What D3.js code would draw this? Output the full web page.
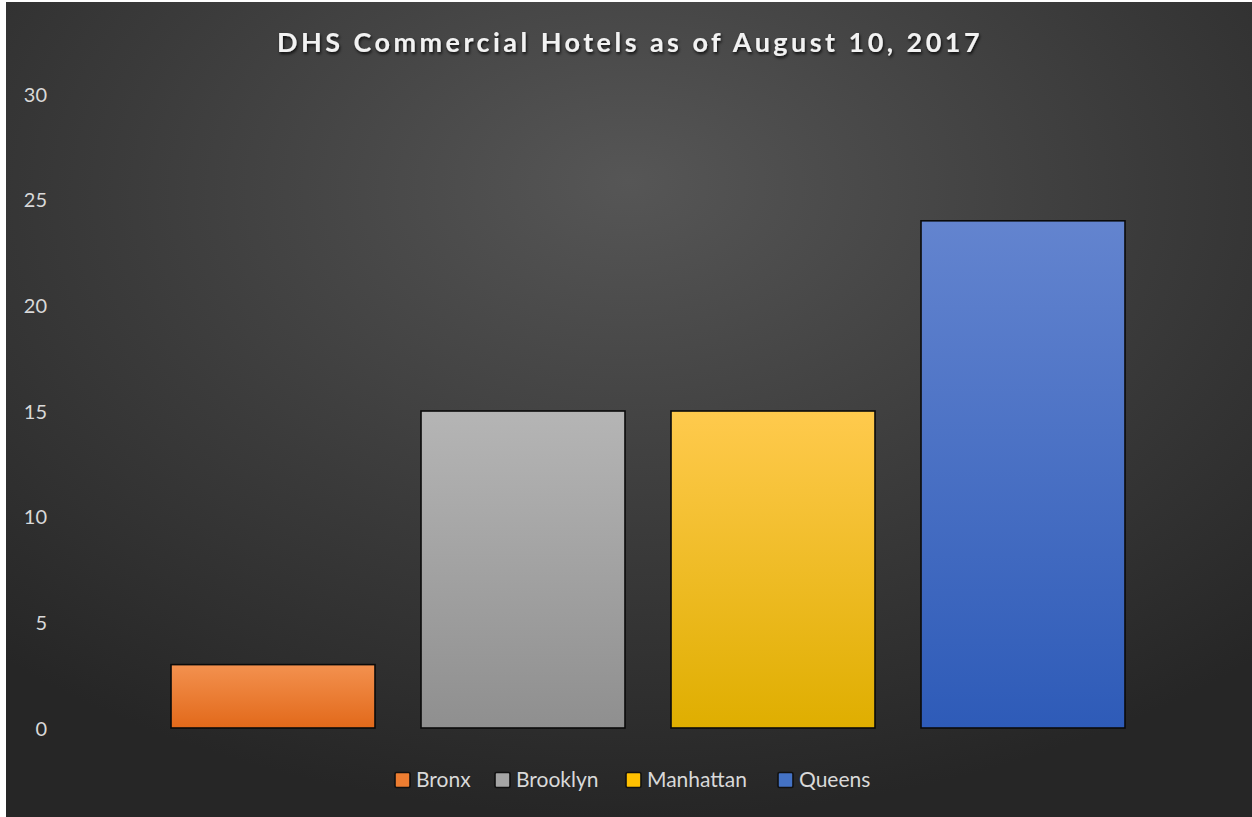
<!DOCTYPE html>
<html><head><meta charset="utf-8">
<script src="https://cdn.jsdelivr.net/npm/d3@7"></script>
<style>html,body{margin:0;padding:0;background:#fff;overflow:hidden}</style>
</head><body>
<svg id="c" width="1252" height="817"></svg>
<script>
const categories = ["Bronx", "Brooklyn", "Manhattan", "Queens"];
const values = [3, 15, 15, 24];
const yTicks = [0, 5, 10, 15, 20, 25, 30];
const colorsTop = ["#f3914f", "#b5b5b5", "#ffca4d", "#6384cf"];
const colorsBottom = ["#e2691a", "#8f8f8f", "#dfae00", "#2e5bb8"];
const legendColors = ["#ed7d31", "#a5a5a5", "#ffc000", "#4472c4"];
const title = "DHS Commercial Hotels as of August 10, 2017";

const svg = d3.select("#c");
const defs = svg.append("defs");
const bg = defs.append("radialGradient").attr("id","bg")
  .attr("cx","50%").attr("cy","25%").attr("r","75%").attr("fx","50%").attr("fy","22%");
bg.append("stop").attr("offset","0%").attr("stop-color","#565656");
bg.append("stop").attr("offset","55%").attr("stop-color","#3b3b3b");
bg.append("stop").attr("offset","100%").attr("stop-color","#262626");
categories.forEach((c,i)=>{
  const g = defs.append("linearGradient").attr("id","g"+i).attr("x1",0).attr("y1",0).attr("x2",0).attr("y2",1);
  g.append("stop").attr("offset","0%").attr("stop-color",colorsTop[i]);
  g.append("stop").attr("offset","100%").attr("stop-color",colorsBottom[i]);
});
const sh = defs.append("filter").attr("id","sh").attr("x","-10%").attr("y","-50%").attr("width","120%").attr("height","200%");
sh.append("feDropShadow").attr("dx",1).attr("dy",2).attr("stdDeviation",1.5).attr("flood-color","#000").attr("flood-opacity",0.8);

svg.append("rect").attr("x",6).attr("y",2).attr("width",1246).attr("height",815).attr("fill","url(#bg)");

const x = d3.scaleBand().domain(categories).range([148,1148]).paddingInner(0.184).paddingOuter(0.092);
const y = d3.scaleLinear().domain([0,30]).range([728,94]);

const yAxis = d3.axisLeft(y).tickValues(yTicks).tickSize(0).tickPadding(0);
const ga = svg.append("g").attr("transform","translate(47,0)").call(yAxis);
ga.select(".domain").remove();
ga.selectAll("text").attr("fill","#d9d9d9").attr("font-size","20px")
  .attr("font-family","Lato, 'Open Sans', sans-serif").attr("dy","0.36em");

svg.selectAll("rect.bar").data(values).enter().append("rect").attr("class","bar")
  .attr("x",(d,i)=>x(categories[i])).attr("width",x.bandwidth())
  .attr("y",d=>y(d)).attr("height",d=>y(0)-y(d))
  .attr("fill",(d,i)=>"url(#g"+i+")").attr("stroke","#0a0a0a").attr("stroke-width",1.6);

svg.append("text").attr("x",630).attr("y",52).attr("text-anchor","middle")
  .attr("fill","#f2f2f2").attr("font-size","27px").attr("font-weight","bold")
  .attr("letter-spacing","3.45px").attr("font-family","Lato, 'Open Sans', sans-serif")
  .attr("filter","url(#sh)").text(title);

const legX = [395, 495, 626, 778];
const lg = svg.append("g");
categories.forEach((c,i)=>{
  lg.append("rect").attr("x",legX[i]).attr("y",772.5).attr("width",15).attr("height",15)
    .attr("fill",legendColors[i]).attr("stroke","#111").attr("stroke-width",1.6).attr("rx",1.5);
  lg.append("text").attr("x",legX[i]+21).attr("y",779).attr("dy","0.36em")
    .attr("fill","#d9d9d9").attr("font-size","21px").attr("font-family","Lato, 'Open Sans', sans-serif").text(c);
});
</script>
</body></html>
